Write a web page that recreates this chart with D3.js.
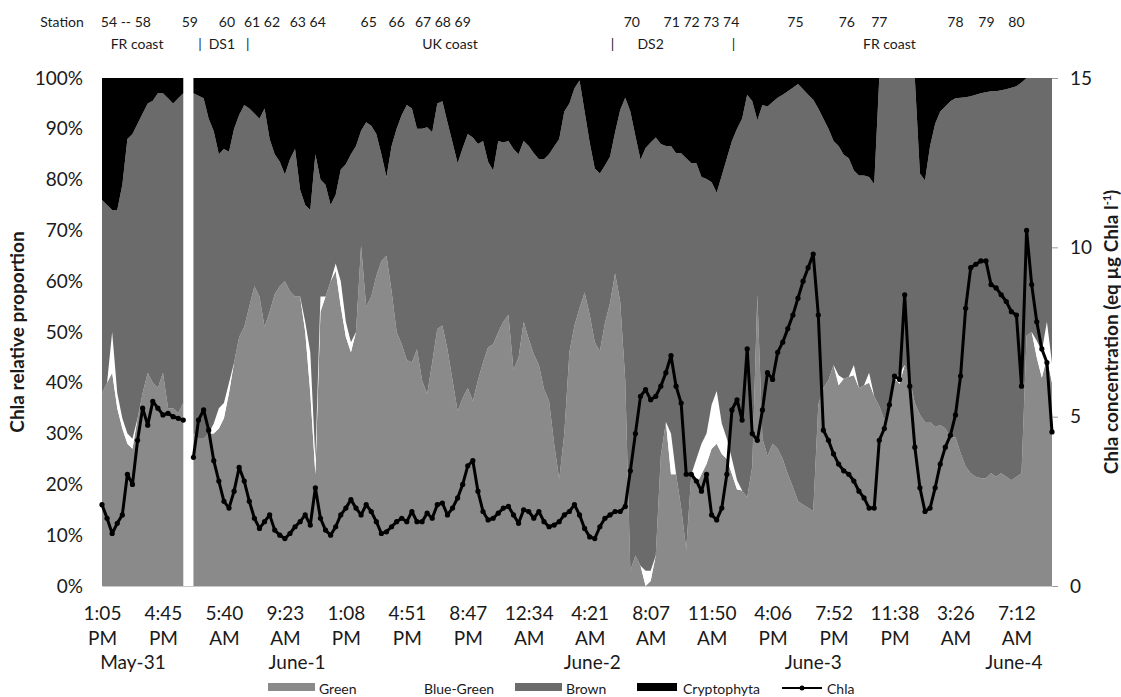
<!DOCTYPE html>
<html>
<head>
<meta charset="utf-8">
<script src="https://cdn.jsdelivr.net/npm/d3@7"></script>
<style>
  body { margin: 0; background: #fff; }
  svg text { font-family: Lato, "Open Sans", "Liberation Sans", sans-serif; fill: #1a1a1a; }
</style>
</head>
<body>
<svg id="chart" width="1121" height="697"></svg>
<script>
// Pigment group shares (%) per sample; null marks the overnight gap in the record
const green = [38,40,42,35,31,28,27,33,38,42,40,39,42,35,35,34,36,null,
  30,29,29,30,30,31,33,38,44,49,51,55,59,57,51,54,57.5,59,60,58,57,57,50,38,22,54,57,60,62,55,49,46,
  50,67,55,57,61,64,65,58,50,47.6,44.5,44,46.6,40.5,37.8,44,50.6,51.3,46.6,40.5,34.4,37,39,36.4,40.5,44,47,47.6,50,52,
  53.4,42.5,45,52,48.6,45.6,43.5,38.8,36.4,28,21,30,46,51.3,54.7,57.8,53.4,48,46.2,51.7,55.7,61.5,56,40.5,3,6,4,0,1,6,
  25.6,32.3,22,22,15.4,7.3,22,20,22,24,27,28,26,25,22,19,18.8,17.4,23.5,57.4,29,25.6,28,27,25,22,19.5,16.7,16,15.4,
  14.7,35.7,39,40.5,43.5,39.5,40.8,41.2,41.5,39,39.5,40,37.4,35.4,32.7,36,40.8,39.8,43.5,40.8,36,33.7,32.3,32.3,31.3,31.7,
  31,29.3,29.3,26.2,23.5,22.2,21.5,21.2,21.2,22.2,21.5,22.2,21.5,20.8,21.5,22.2,49.3,50,45,41,45,40];
const blueGreen = [0,0,8,3,2,2,2,0,0,0,0,0,0,0,0,0,0,null,
  0,0,0,0,2,4,3,2,0,0,0,0,0,0,0,0,0,0,0,0,0,0,2,8,3,3,0,0,1.5,5,3,2,
  0,0,0,0,0,0,0,0,0,0,0,0,0,0,0,0,0,0,0,0,0,0,0,0,0,0,0,0,0,0,
  0,0,0,0,0,0,0,0,0,0,0,0,0,0,0,0,0,0,0,0,0,0,0,0,0,0,0,3,2,0,
  0,0,8,0,0,0,0,5,6,6,8.7,10.4,6,4,3,1.8,0,0,0,0,0,0,0,0,0,0,0,0,0,0,
  0,0,0,0,0,2,0,0,2,0,0,2,0,0,0,0,0,2,0,0,0,0,0,0,0,0,
  0,0,0,0,0,0,0,0,0,0,0,0,0,0,0,0,0,0,3.3,5.2,7,3.9];
const brown = [38,35,24,36,46,58,60,58,55,53,55.5,58,55,61,60,62,61,null,
  67,67.5,67,62,57.5,50,50,45.5,46,43.7,43.7,39,34,35,43,34,27.5,24.5,21,26,29,21,23,28,60,23,22,15,13.5,22,31,37,
  36.6,22.6,36.3,33.6,28,21,15.5,28.6,40,45.1,50.2,50,43.4,49.5,52.5,45.3,44.4,44.1,44.7,46.8,48.8,49.2,50,51.9,46.5,43.6,36.5,34.2,37.6,35.3,
  34.2,43.5,40,35.6,38,39.6,40.5,45.2,48.6,58.5,67,63.4,49,46.7,44.8,35.6,33.9,34.2,35,31.1,28.8,27.8,37.7,55.6,90.4,82.6,79.9,83.2,84.3,82.3,
  61.4,54.3,56.6,63.2,69.8,76.9,61.2,58.2,52.5,50.1,43.8,39,48.8,55.2,62.6,69.2,73.2,79.3,71.9,34.3,65.7,68.8,67.3,69.1,71.7,75.4,78.6,82.1,81.8,81.3,
  81,58.3,53,49.5,44.1,45.1,44.1,43,38.3,41.8,41.3,38.5,41.7,64.6,67.3,64,59.2,58.2,56.5,59.2,64,47.5,47.5,54.3,59.7,61.7,
  63.4,66.1,66.7,69.9,72.7,74.2,75.2,75.8,76,75.2,75.9,75.4,76.3,77.3,76.9,76.9,50.7,50,51.7,53.8,48,56.1];
const cryptophyta = [24,25,26,26,21,12,11,9,7,5,4.5,3,3,4,5,4,3,null,
  3,3.5,4,8,10.5,15,14,14.5,10,7.3,5.3,6,7,8,6,12,15,16.5,19,16,14,22,25,26,15,20,21,25,23,18,17,15,
  13.4,10.4,8.7,9.4,11,15,19.5,13.4,10,7.3,5.3,6,10,10,9.7,10.7,5,4.6,8.7,12.7,16.8,13.8,11,11.7,13,12.4,16.5,18.2,12.4,12.7,
  12.4,14,15,12.4,13.4,14.8,16,16,15,13.5,12,6.6,5,2,0.5,6.6,12.7,17.8,18.8,17.2,15.5,10.7,6.3,3.9,6.6,11.4,16.1,13.8,12.7,11.7,
  13,13.4,13.4,14.8,14.8,15.8,16.8,16.8,19.5,19.9,20.5,22.6,19.2,15.8,12.4,10,8,3.3,4.6,8.3,5.3,5.6,4.7,3.9,3.3,2.6,1.9,1.2,2.2,3.3,
  4.3,6,8,10,12.4,13.4,15.1,15.8,18.2,19.2,19.2,19.5,20.9,0,0,0,0,0,0,0,0,18.8,20.2,13.4,9,6.6,
  5.6,4.6,4,3.9,3.8,3.6,3.3,3,2.8,2.6,2.6,2.4,2.2,1.9,1.6,0.9,0,0,0,0,0,0];
// Chla concentration (eq µg Chla l-1)
const chla = [2.4,2.0,1.55,1.85,2.1,3.3,3.0,4.3,5.25,4.75,5.45,5.25,5.05,5.1,5.0,4.95,4.9,null,
  3.8,4.9,5.2,4.6,3.7,3.1,2.5,2.3,2.8,3.5,3.1,2.5,2.0,1.7,1.9,2.1,1.65,1.5,1.4,1.55,1.75,1.9,2.1,1.8,2.9,2.0,1.65,1.5,1.75,2.1,2.3,2.55,
  2.3,2.1,2.4,2.2,1.9,1.55,1.6,1.75,1.9,2.0,1.9,2.2,1.9,1.9,2.15,2.0,2.4,2.45,2.1,2.3,2.6,3.0,3.55,3.7,2.8,2.2,1.95,2.0,2.15,2.3,
  2.35,2.1,1.85,2.25,2.2,2.0,2.2,1.9,1.75,1.8,1.9,2.1,2.2,2.4,2.1,1.7,1.45,1.4,1.75,2.0,2.1,2.2,2.2,2.35,3.4,4.5,5.6,5.8,5.5,5.6,
  5.9,6.3,6.8,5.9,5.4,3.3,3.3,3.1,2.8,3.3,2.1,1.95,2.3,3.3,5.2,5.5,4.9,7.0,4.5,4.3,5.2,6.3,6.1,6.9,7.2,7.6,8.0,8.5,9.0,9.4,
  9.8,8.0,4.6,4.3,3.9,3.6,3.4,3.3,3.1,2.8,2.6,2.3,2.3,4.3,4.65,5.35,6.2,6.1,8.6,5.9,4.1,2.9,2.2,2.3,2.9,3.6,
  4.1,4.45,5.05,6.2,8.2,9.4,9.5,9.6,9.6,8.9,8.8,8.6,8.4,8.1,8.0,5.9,10.5,8.9,7.8,7.0,6.6,4.55];

// Category-axis labels: one every 12 samples
const timeLabels = [["1:05","PM"],["4:45","PM"],["5:40","AM"],["9:23","AM"],["1:08","PM"],["4:51","PM"],
  ["8:47","PM"],["12:34","AM"],["4:21","AM"],["8:07","AM"],["11:50","AM"],["4:06","PM"],["7:52","PM"],
  ["11:38","PM"],["3:26","AM"],["7:12","AM"]];
const labelStep = 12;
const dayNames = ["May-31","June-1","June-2","June-3","June-4"];
const dayAt = [6.1, 38.4, 96.5, 140, 179.5];
const stationNames = ["54 -- 58","59","60","61 62","63 64","65","66","67 68 69","70","71 72 73 74","75","76","77","78","79","80"];
const stationAt = [4.7,17.3,24.6,31.5,40.5,52.5,58,67.1,104.3,118,136.5,146.6,153,168,174.1,180];
const zoneNames = ["FR coast","|","DS1","|","UK coast","|","DS2","|","FR coast"];
const zoneAt = [6.9,19.3,23.6,28.7,68.5,100.5,108,124.3,155];

const keys = ["green","blueGreen","brown","cryptophyta"];
const legendNames = ["Green","Blue-Green","Brown","Cryptophyta"];
const colors = { green: "#8a8a8a", blueGreen: "#ffffff", brown: "#6b6b6b", cryptophyta: "#000000" };

const N = green.length;
const rows = d3.range(N).map(i => ({ green: green[i], blueGreen: blueGreen[i], brown: brown[i], cryptophyta: cryptophyta[i] }));

const plot = { left: 102, right: 1052, top: 78, bottom: 586 };
const svg = d3.select("#chart");

const x = d3.scaleLinear().domain([0, N - 1]).range([plot.left, plot.right]);
const y = d3.scaleLinear().domain([0, 1]).range([plot.bottom, plot.top]);
const y2 = d3.scaleLinear().domain([0, 15]).range([plot.bottom, plot.top]);

const series = d3.stack()
  .keys(keys)
  .value((d, k) => d[k] == null ? NaN : d[k])
  .offset(d3.stackOffsetExpand)(rows);

const area = d3.area()
  .defined(d => Number.isFinite(d[1]))
  .x((d, i) => x(i))
  .y0(d => y(d[0]))
  .y1(d => y(d[1]));

svg.append("g").selectAll("path").data(series).join("path")
  .attr("fill", d => colors[d.key])
  .attr("d", area);

// Chla line with point markers
const chlaLine = d3.line()
  .defined(d => d != null)
  .x((d, i) => x(i))
  .y(d => y2(d));
svg.append("path").datum(chla)
  .attr("fill", "none").attr("stroke", "#000").attr("stroke-width", 3)
  .attr("stroke-linejoin", "round")
  .attr("d", chlaLine);
svg.append("g").selectAll("circle")
  .data(chla.map((v, i) => ({ v, i })).filter(d => d.v != null))
  .join("circle")
  .attr("cx", d => x(d.i)).attr("cy", d => y2(d.v)).attr("r", 2.6).attr("fill", "#000");

// Left percentage axis
const yAxis = svg.append("g").attr("transform", `translate(${plot.left},0)`)
  .call(d3.axisLeft(y).tickValues(d3.range(0, 11).map(k => k / 10)).tickFormat(d3.format(".0%")).tickSize(0).tickPadding(19));
yAxis.select(".domain").remove();
yAxis.selectAll("text").attr("font-size", 19).attr("font-family", "Lato, sans-serif");

// Right concentration axis
const y2Axis = svg.append("g").attr("transform", `translate(${plot.right},0)`)
  .call(d3.axisRight(y2).tickValues([0, 5, 10, 15]).tickSize(6).tickPadding(12));
y2Axis.select(".domain").remove();
y2Axis.selectAll("line").attr("stroke", "#9a9a9a");
y2Axis.selectAll("text").attr("font-size", 19).attr("font-family", "Lato, sans-serif");

// Bottom category axis with two-line time labels
const tickIdx = timeLabels.map((t, k) => k * labelStep);
const xAxis = svg.append("g").attr("transform", `translate(0,${plot.bottom})`)
  .call(d3.axisBottom(x).tickValues(tickIdx).tickSize(0).tickFormat(""));
xAxis.select(".domain").attr("stroke", "#c8c8c8");
xAxis.selectAll(".tick").each(function(d, k) {
  const t = d3.select(this).append("text").attr("text-anchor", "middle").attr("font-size", 19).attr("fill", "#1a1a1a");
  t.append("tspan").attr("x", 0).attr("y", 34).text(timeLabels[k][0]);
  t.append("tspan").attr("x", 0).attr("y", 59).text(timeLabels[k][1]);
});
svg.append("g").selectAll("text").data(dayNames).join("text")
  .attr("x", (d, k) => x(dayAt[k])).attr("y", 669)
  .attr("text-anchor", "middle").attr("font-size", 19).text(d => d);

// Axis titles
svg.append("text")
  .attr("transform", "translate(24,332) rotate(-90)")
  .attr("text-anchor", "middle").attr("font-size", 19).attr("font-weight", "bold")
  .text("Chla relative proportion");
const rt = svg.append("text")
  .attr("transform", "translate(1118,332) rotate(-90)")
  .attr("text-anchor", "middle").attr("font-size", 19).attr("font-weight", "bold");
rt.append("tspan").text("Chla concentration (eq µg Chla l");
rt.append("tspan").attr("font-size", 11).attr("dy", -7).text("-1");
rt.append("tspan").attr("dy", 7).text(")");

// Station and zone annotations along the top
svg.append("text").attr("x", 62).attr("y", 27).attr("text-anchor", "middle").attr("font-size", 14).text("Station");
svg.append("g").selectAll("text").data(stationNames).join("text")
  .attr("x", (d, k) => x(stationAt[k])).attr("y", 27)
  .attr("text-anchor", "middle").attr("font-size", 14).text(d => d);
svg.append("g").selectAll("text").data(zoneNames).join("text")
  .attr("x", (d, k) => x(zoneAt[k])).attr("y", 49)
  .attr("text-anchor", "middle").attr("font-size", 14).text(d => d);

// Legend
const legend = svg.append("g").attr("font-size", 14);
const legendItems = [
  { key: "green", sx: 268, sw: 47, tx: 319 },
  { key: "blueGreen", sx: 372, sw: 47, tx: 424 },
  { key: "brown", sx: 515, sw: 47, tx: 566 },
  { key: "cryptophyta", sx: 637, sw: 40, tx: 683 }
];
legendItems.forEach((it, k) => {
  legend.append("rect").attr("x", it.sx).attr("y", 683).attr("width", it.sw).attr("height", 8).attr("fill", colors[it.key]);
  legend.append("text").attr("x", it.tx).attr("y", 694).text(legendNames[k]);
});
legend.append("line").attr("x1", 782).attr("x2", 822).attr("y1", 688).attr("y2", 688).attr("stroke", "#000").attr("stroke-width", 2);
legend.append("circle").attr("cx", 802).attr("cy", 688).attr("r", 2.5).attr("fill", "#000");
legend.append("text").attr("x", 827).attr("y", 694).text("Chla");
</script>
</body>
</html>
